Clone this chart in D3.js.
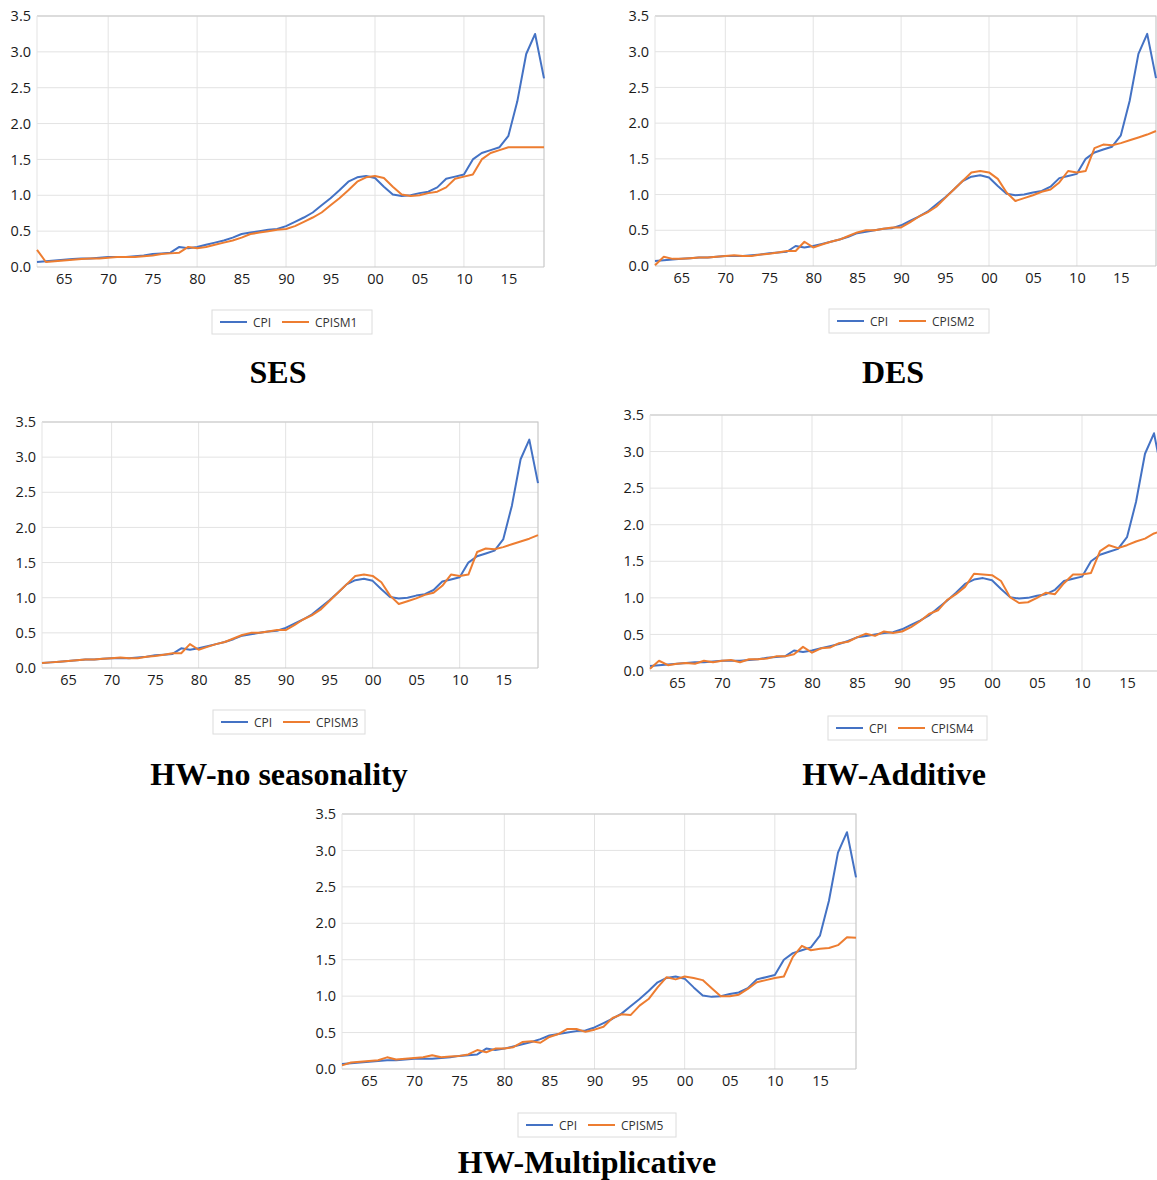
<!DOCTYPE html>
<html>
<head>
<meta charset="utf-8">
<script src="https://cdn.jsdelivr.net/npm/d3@7"></script>
<style>
  body { margin: 0; background: #fff; }
  svg { display: block; }
</style>
</head>
<body>
<div id="chart"></div>
<script>
// Data
var years = [1962,1963,1964,1965,1966,1967,1968,1969,1970,1971,1972,1973,1974,1975,1976,1977,1978,1979,
  1980,1981,1982,1983,1984,1985,1986,1987,1988,1989,1990,1991,1992,1993,1994,1995,1996,1997,1998,1999,
  2000,2001,2002,2003,2004,2005,2006,2007,2008,2009,2010,2011,2012,2013,2014,2015,2016,2017,2018,2019];

var cpi = [0.07,0.08,0.09,0.10,0.11,0.12,0.12,0.13,0.14,0.14,0.14,0.15,0.16,0.18,0.19,0.20,0.28,0.26,
  0.28,0.31,0.34,0.37,0.41,0.46,0.48,0.50,0.52,0.53,0.57,0.63,0.69,0.76,0.86,0.96,1.07,1.19,1.25,1.27,
  1.24,1.12,1.01,0.99,1.00,1.03,1.05,1.11,1.23,1.26,1.29,1.50,1.59,1.63,1.67,1.83,2.31,2.97,3.25,2.63];

var cpism1 = [0.24,0.07,0.08,0.09,0.10,0.11,0.12,0.12,0.13,0.14,0.14,0.14,0.15,0.16,0.18,0.19,0.20,0.28,
  0.26,0.28,0.31,0.34,0.37,0.41,0.46,0.48,0.50,0.52,0.53,0.57,0.63,0.69,0.76,0.86,0.96,1.07,1.19,1.25,
  1.27,1.24,1.12,1.01,0.99,1.00,1.03,1.05,1.11,1.23,1.26,1.29,1.50,1.59,1.63,1.67,1.67,1.67,1.67,1.67];

var cpism2 = [0.01,0.13,0.10,0.10,0.11,0.12,0.12,0.13,0.14,0.15,0.14,0.14,0.16,0.17,0.19,0.21,0.21,0.34,
  0.26,0.30,0.34,0.37,0.42,0.47,0.50,0.50,0.52,0.54,0.54,0.61,0.69,0.75,0.83,0.95,1.07,1.19,1.31,1.33,
  1.31,1.22,1.03,0.91,0.95,0.99,1.04,1.07,1.17,1.33,1.31,1.33,1.65,1.70,1.69,1.72,1.76,1.80,1.84,1.89];

var cpism3 = [0.07,0.08,0.09,0.10,0.11,0.12,0.12,0.13,0.14,0.15,0.14,0.14,0.16,0.17,0.19,0.21,0.21,0.34,
  0.26,0.30,0.34,0.37,0.42,0.47,0.50,0.50,0.52,0.54,0.54,0.61,0.69,0.75,0.83,0.95,1.07,1.19,1.31,1.33,
  1.31,1.22,1.03,0.91,0.95,0.99,1.04,1.07,1.17,1.33,1.31,1.33,1.65,1.70,1.69,1.72,1.76,1.80,1.84,1.89];

var cpism4 = [0.03,0.14,0.08,0.10,0.11,0.10,0.14,0.12,0.14,0.15,0.12,0.16,0.16,0.17,0.20,0.20,0.23,0.33,
  0.25,0.31,0.32,0.38,0.40,0.46,0.51,0.48,0.54,0.52,0.54,0.60,0.68,0.78,0.83,0.97,1.05,1.15,1.33,1.32,
  1.31,1.23,1.01,0.93,0.94,1.00,1.07,1.05,1.20,1.32,1.32,1.34,1.64,1.72,1.68,1.72,1.77,1.81,1.88,1.92];

var cpism5 = [0.05,0.09,0.10,0.11,0.12,0.16,0.13,0.14,0.15,0.16,0.19,0.16,0.17,0.18,0.20,0.26,0.23,0.28,
  0.28,0.30,0.37,0.38,0.36,0.44,0.48,0.55,0.55,0.51,0.54,0.58,0.70,0.75,0.74,0.87,0.96,1.12,1.26,1.23,
  1.27,1.25,1.22,1.11,1.00,1.00,1.02,1.10,1.19,1.22,1.25,1.27,1.54,1.69,1.63,1.65,1.66,1.70,1.81,1.80];

var yTicks = [0, 0.5, 1.0, 1.5, 2.0, 2.5, 3.0, 3.5];
var xTicks = [1965,1970,1975,1980,1985,1990,1995,2000,2005,2010,2015];
var xGrid = [1970,1980,1990,2000,2010];

var titles = ["SES", "DES", "HW-no seasonality", "HW-Additive", "HW-Multiplicative"];
var seriesNames = ["CPISM1", "CPISM2", "CPISM3", "CPISM4", "CPISM5"];
var seriesData = [cpism1, cpism2, cpism3, cpism4, cpism5];

// Layout of each panel (pixels)
var layout = [
  {l: 37,  r: 544,  t: 16,  b: 267,  legX: 212, legY: 310, legW: 160, titleX: 278, titleY: 383},
  {l: 655, r: 1156, t: 16,  b: 266,  legX: 829, legY: 309, legW: 160, titleX: 893, titleY: 383},
  {l: 42,  r: 538,  t: 422, b: 668,  legX: 213, legY: 710, legW: 152, titleX: 279, titleY: 785},
  {l: 650, r: 1163, t: 415, b: 671,  legX: 828, legY: 716, legW: 159, titleX: 894, titleY: 785},
  {l: 342, r: 856,  t: 814, b: 1069, legX: 518, legY: 1113, legW: 158, titleX: 587, titleY: 1173}
];

var blue = "#4472C4", orange = "#ED7D31";
var tickFont = "'Open Sans', 'Noto Sans', sans-serif";

var svg = d3.select("#chart").append("svg")
  .attr("width", 1157)
  .attr("height", 1180)
  .style("overflow", "hidden");

layout.forEach(function(p, i) {
  var x = d3.scaleLinear().domain([years[0], years[years.length - 1]]).range([p.l, p.r]);
  var y = d3.scaleLinear().domain([0, 3.5]).range([p.b, p.t]);
  var g = svg.append("g");

  // horizontal gridlines
  g.selectAll(".hgrid").data(yTicks.slice(1)).enter().append("line")
    .attr("x1", p.l).attr("x2", p.r)
    .attr("y1", function(d){ return y(d); }).attr("y2", function(d){ return y(d); })
    .attr("stroke", "#e3e3e3").attr("stroke-width", 1);

  // vertical gridlines
  g.selectAll(".vgrid").data(xGrid).enter().append("line")
    .attr("x1", function(d){ return x(d); }).attr("x2", function(d){ return x(d); })
    .attr("y1", p.t).attr("y2", p.b)
    .attr("stroke", "#e3e3e3").attr("stroke-width", 1);

  // plot border (top / right)
  g.append("path")
    .attr("d", "M" + p.l + "," + p.t + "H" + p.r + "V" + p.b)
    .attr("fill", "none").attr("stroke", "#c8c8c8").attr("stroke-width", 1.2);
  // left edge faint, bottom axis line
  g.append("line").attr("x1", p.l).attr("x2", p.l).attr("y1", p.t).attr("y2", p.b)
    .attr("stroke", "#e3e3e3");
  g.append("line").attr("x1", p.l).attr("x2", p.r).attr("y1", p.b).attr("y2", p.b)
    .attr("stroke", "#c8c8c8").attr("stroke-width", 1.2);

  // axes (labels only)
  var yAxis = d3.axisLeft(y).tickValues(yTicks).tickSize(0).tickPadding(6)
    .tickFormat(d3.format(".1f"));
  var gY = g.append("g").attr("transform", "translate(" + p.l + ",0)").call(yAxis);
  gY.select(".domain").remove();
  gY.selectAll("text").style("font-family", tickFont).style("font-size", "14.5px").attr("fill", "#1a1a1a");

  var xAxis = d3.axisBottom(x).tickValues(xTicks).tickSize(0).tickPadding(7)
    .tickFormat(function(d){ return String(d).slice(2); });
  var gX = g.append("g").attr("transform", "translate(0," + p.b + ")").call(xAxis);
  gX.select(".domain").remove();
  gX.selectAll("text").style("font-family", tickFont).style("font-size", "14.5px").attr("fill", "#1a1a1a");

  // lines
  var line = d3.line()
    .x(function(d, k){ return x(years[k]); })
    .y(function(d){ return y(d); });

  g.append("path").datum(cpi)
    .attr("d", line).attr("fill", "none")
    .attr("stroke", blue).attr("stroke-width", 2).attr("stroke-linejoin", "round");
  g.append("path").datum(seriesData[i])
    .attr("d", line).attr("fill", "none")
    .attr("stroke", orange).attr("stroke-width", 2).attr("stroke-linejoin", "round");

  // legend
  var leg = g.append("g").attr("transform", "translate(" + p.legX + "," + p.legY + ")");
  leg.append("rect").attr("width", p.legW).attr("height", 24)
    .attr("fill", "#fff").attr("stroke", "#dcdcdc");
  var items = [{name: "CPI", color: blue, x: 8, w: 27}, {name: seriesNames[i], color: orange, x: 70, w: 27}];
  items.forEach(function(it) {
    leg.append("line").attr("x1", it.x).attr("x2", it.x + it.w).attr("y1", 12).attr("y2", 12)
      .attr("stroke", it.color).attr("stroke-width", 2);
    leg.append("text").attr("x", it.x + it.w + 6).attr("y", 16.5)
      .style("font-family", tickFont).style("font-size", "12px").attr("fill", "#333")
      .text(it.name);
  });

  // title
  svg.append("text").attr("x", p.titleX).attr("y", p.titleY)
    .attr("text-anchor", "middle")
    .style("font-family", "'Liberation Serif', 'Times New Roman', serif")
    .style("font-weight", "bold").style("font-size", "32px")
    .attr("fill", "#000")
    .text(titles[i]);
});
</script>
</body>
</html>
